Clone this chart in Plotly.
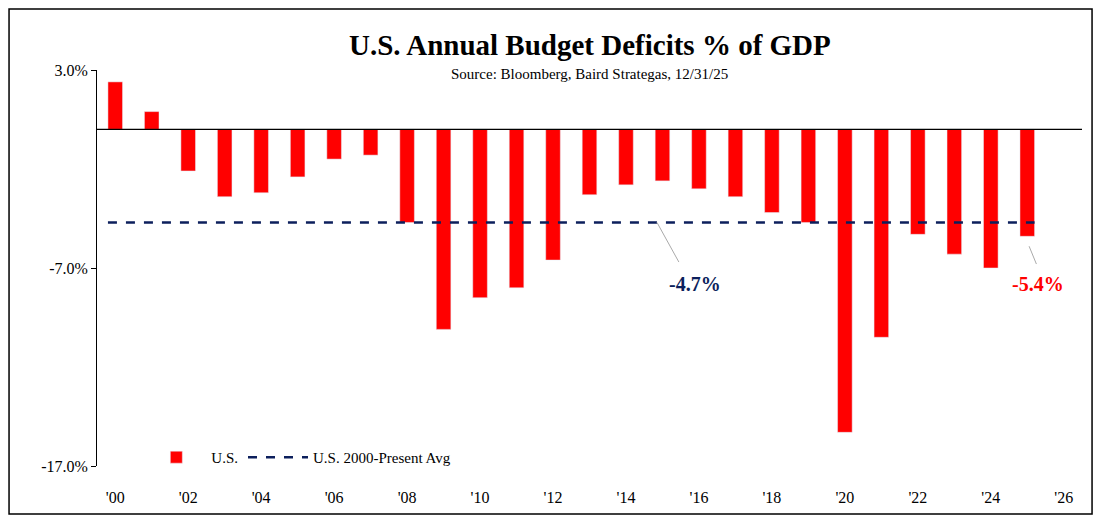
import plotly.graph_objects as go

years = list(range(2000, 2026))
deficits = [2.4, 0.9, -2.1, -3.4, -3.2, -2.4, -1.5, -1.3, -4.7, -10.1, -8.5, -8.0, -6.6,
            -3.3, -2.8, -2.6, -3.0, -3.4, -4.2, -4.7, -15.3, -10.5, -5.3, -6.3, -7.0, -5.4]
avg = -4.7
tick_years = list(range(2000, 2027, 2))
tick_labels = ["'%02d" % (y % 100) for y in tick_years]

F = "Liberation Serif"
fig = go.Figure()
fig.add_trace(go.Bar(x=years, y=deficits, name="U.S.", marker_color="#ff0000", width=0.4))
fig.add_trace(go.Scatter(x=[2000 - 0.2, 2025 + 0.2], y=[avg, avg], mode="lines",
                         name="U.S. 2000-Present Avg",
                         line=dict(color="#0c1f5c", width=2.5, dash="dash")))
fig.add_hline(y=0, line_color="black", line_width=1.2)
fig.add_annotation(x=2015.9, y=-7.8, text="<b>-4.7%</b>", showarrow=False,
                   font=dict(family=F, size=20, color="#0c1f5c"))
fig.add_shape(type="line", x0=2014.85, y0=avg, x1=2015.45, y1=-6.7, line=dict(color="#aaaaaa", width=1))
fig.add_annotation(x=2025.3, y=-7.8, text="<b>-5.4%</b>", showarrow=False,
                   font=dict(family=F, size=20, color="#ff0000"))
fig.add_shape(type="line", x0=2025.05, y0=-5.9, x1=2025.25, y1=-6.8, line=dict(color="#aaaaaa", width=1))
fig.add_shape(type="rect", xref="paper", yref="paper", x0=-0.0893, y0=-0.121, x1=1.0102, y1=1.154,
              line=dict(color="black", width=1.5))
fig.add_annotation(xref="paper", yref="paper", x=0.5, y=1.063, yanchor="middle", showarrow=False,
                   text="<b>U.S. Annual Budget Deficits % of GDP</b>", font=dict(size=29, family=F))
fig.add_annotation(xref="paper", yref="paper", x=0.5, y=0.99, yanchor="middle", showarrow=False,
                   text="Source: Bloomberg, Baird Strategas, 12/31/25", font=dict(size=15, family=F))
fig.update_layout(
    width=1086, height=509, margin=dict(l=89, r=12, t=62, b=51),
    plot_bgcolor="white", paper_bgcolor="white",
    font=dict(family=F, size=16, color="black"),
    showlegend=True,
    legend=dict(orientation="h", x=0.045, y=-0.02, xanchor="left", yanchor="bottom",
                font=dict(size=15, family=F), bgcolor="rgba(0,0,0,0)", itemwidth=60),
    xaxis=dict(range=[1999.5, 2026.5], tickvals=tick_years, ticktext=tick_labels,
               showgrid=False, ticks="", tickfont=dict(size=16), ticklabelstandoff=20),
    yaxis=dict(range=[-17, 3], tickvals=[3, -7, -17], ticktext=["3.0%", "-7.0%", "-17.0%"],
               showgrid=False, showline=True, linecolor="black", ticks="outside",
               ticklen=5, tickcolor="black", zeroline=False, tickfont=dict(size=16)),
)
fig.write_html("out.html")
